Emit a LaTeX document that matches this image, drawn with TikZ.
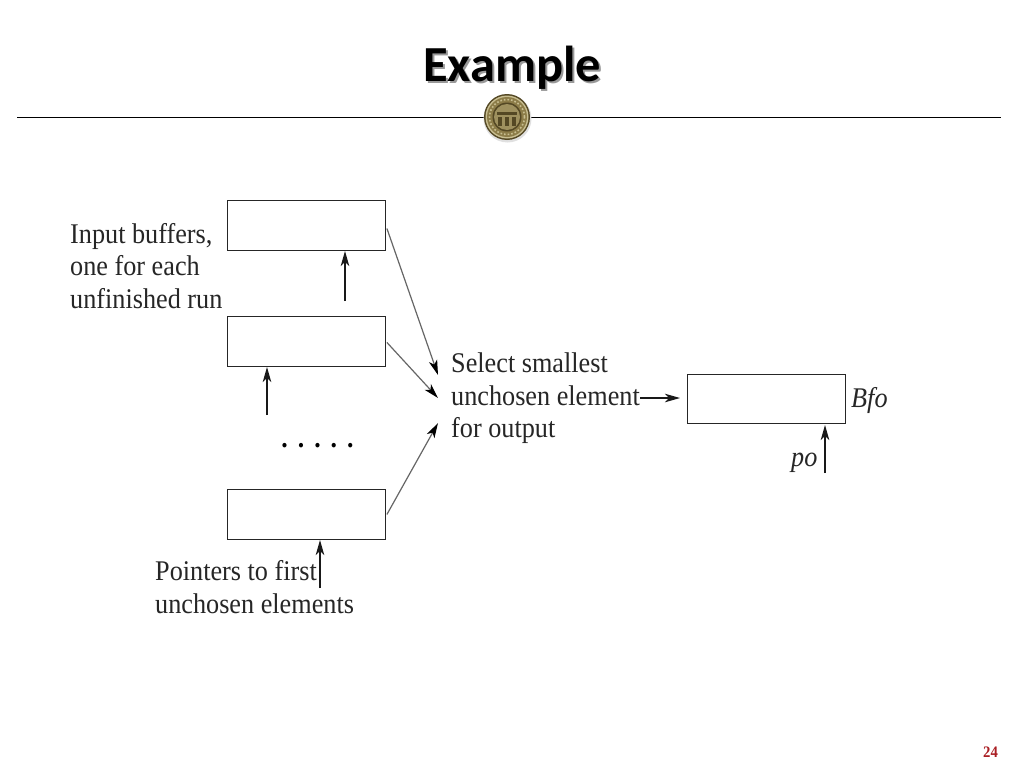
\documentclass[tikz,border=0pt]{standalone}
\usepackage{fontspec}
\setmainfont[FakeStretch=0.92]{Liberation Serif}
\newfontfamily\titlefont{Carlito}
\usetikzlibrary{arrows.meta}
\definecolor{sealgold}{RGB}{140,124,72}
\definecolor{sealdark}{RGB}{84,72,36}
\definecolor{seallight}{RGB}{200,190,145}
\definecolor{pagered}{RGB}{170,30,35}
\tikzset{
  buf/.style={draw=black!85,line width=1.4pt,minimum width=157.5pt,minimum height=49.5pt,inner sep=0pt,anchor=north west},
  arr/.style={draw=black!90,line width=1.3pt,-{Stealth[length=15pt,width=8.5pt,inset=4pt]}},
  garr/.style={draw=black!60,line width=1.2pt,-{Stealth[length=15pt,width=8.5pt,inset=4pt,color=black,fill=black]}},
  lbl/.style={font=\fontsize{28.5}{32.5}\selectfont,align=left,inner sep=0pt,text=black!85},
}
\begin{document}
\begin{tikzpicture}[x=1pt,y=-1pt]
\useasboundingbox (0,0) rectangle (1024,768);
\fill[white] (0,0) rectangle (1024,768);
% title
\node[font=\titlefont\bfseries\fontsize{50.5}{52}\selectfont,text=black!40,inner sep=0pt] (titleshadow) at (514,69.5) {Example};
\node[font=\titlefont\bfseries\fontsize{50.5}{52}\selectfont,text=black,inner sep=0pt] (title) at (512,67.5) {Example};
% rule and seal
\coordinate (ruleL) at (17,117.5);
\coordinate (ruleR) at (1001,117.5);
\draw[line width=1.3pt,black] (ruleL) -- (ruleR);
\fill[black!12] (507.5,118.5) circle (24);
\fill[sealdark] (507,117) circle (23);
\fill[seallight] (507,117) circle (21.5);
\fill[sealgold] (507,117) circle (20);
\draw[seallight,line width=1.6pt,dotted] (507,117) circle (17.5);
\fill[sealdark] (507,117) circle (14.5);
\fill[sealgold!70!seallight] (507,117) circle (13);
\fill[sealdark] (497,112) rectangle (517,115);
\fill[sealdark] (498,117) rectangle (502,126);
\fill[sealdark] (505,117) rectangle (509,126);
\fill[sealdark] (512,117) rectangle (516,126);
% boxes
\node[buf] (b1) at (227,200) {};
\node[buf] (b2) at (227,316) {};
\node[buf] (b3) at (227,489) {};
\node[buf,minimum height=48.5pt] (bo) at (687,374) {};
% labels
\node[lbl,anchor=west] (inp) at (70,266) {Input buffers,\\one for each\\unfinished run};
\node[lbl,anchor=west] (ptr) at (155,587) {Pointers to first\\unchosen elements};
\node[lbl,anchor=west] (sel) at (451,398.5) {Select smallest\\unchosen element\\for output};
\node[lbl,anchor=west,font=\itshape\fontsize{28.5}{32.5}\selectfont] (bfo) at (851,400) {Bfo};
\node[lbl,anchor=west,font=\itshape\fontsize{28.5}{32.5}\selectfont] (po) at (791,463) {po};
\node[font=\bfseries\fontsize{16}{18}\selectfont,text=pagered,inner sep=0pt] (pg) at (990.5,752) {24};
\node[font=\bfseries\fontsize{28}{28}\selectfont,inner sep=0pt] (dots) at (317.5,446) {.\hspace{10pt}.\hspace{10pt}.\hspace{10pt}.\hspace{10pt}.};
% free ends
\coordinate (p1) at (345,301);
\coordinate (p1t) at (345,251);
\coordinate (p2) at (267,415);
\coordinate (p2t) at (267,367);
\coordinate (p3) at (320,588);
\coordinate (p3t) at (320,540);
\coordinate (p4) at (825,473);
\coordinate (p4t) at (825,425);
\coordinate (s1) at (438,375);
\coordinate (s2) at (438,398);
\coordinate (s3) at (438,423);
\coordinate (so) at (640,398);
\coordinate (sot) at (680,398);
% connectors
\draw[garr] (b1.east) ++(1,3) -- (s1);
\draw[garr] (b2.east) ++(1,1) -- (s2);
\draw[garr] (b3.east) ++(1,0) -- (s3);
\draw[arr] (p1) -- (p1t);
\draw[arr] (p2) -- (p2t);
\draw[arr] (p3) -- (p3t);
\draw[arr] (p4) -- (p4t);
\draw[arr] (so) -- (sot);
\end{tikzpicture}
\end{document}
